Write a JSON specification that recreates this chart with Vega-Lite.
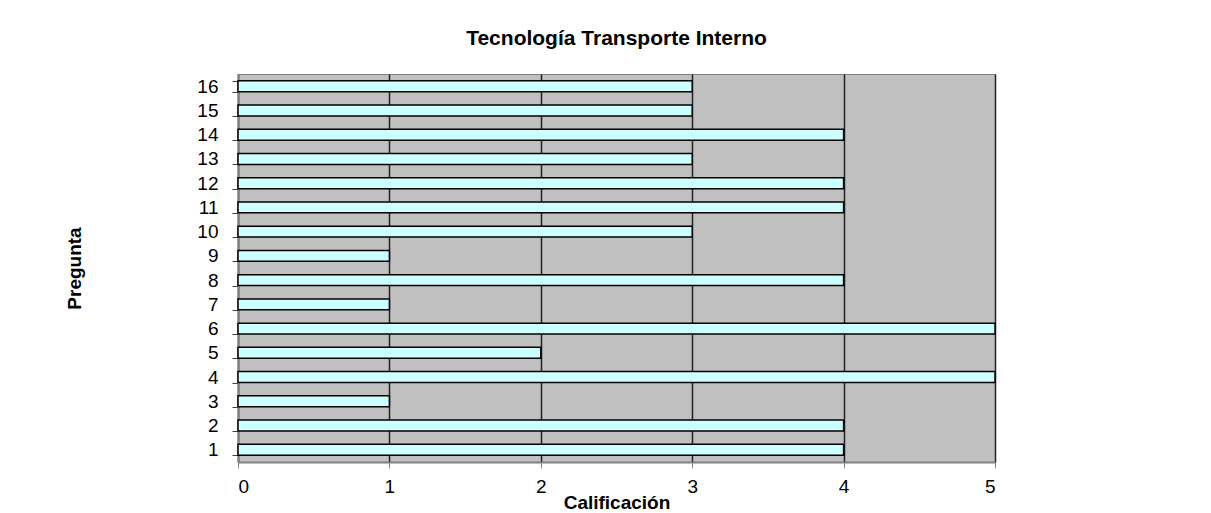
{
  "$schema": "https://vega.github.io/schema/vega-lite/v6.json",
  "autosize": {"type": "none"},
  "width": 757,
  "height": 388,
  "padding": {"left": 238, "top": 74, "right": 216, "bottom": 51},
  "background": "white",
  "title": {
    "text": "Tecnología Transporte Interno",
    "font": "Liberation Sans",
    "fontSize": 21,
    "fontWeight": "bold",
    "color": "black",
    "anchor": "middle",
    "offset": 16
  },
  "config": {
    "view": {"fill": "#C0C0C0", "stroke": "#808080", "strokeWidth": 1},
    "axis": {
      "labelFont": "Liberation Sans",
      "labelFontSize": 19,
      "labelColor": "black",
      "titleFont": "Liberation Sans",
      "titleFontSize": 19,
      "titleFontWeight": "bold",
      "titleColor": "black"
    }
  },
  "data": {
    "values": [
      {"pregunta": "1", "calificacion": 4},
      {"pregunta": "2", "calificacion": 4},
      {"pregunta": "3", "calificacion": 1},
      {"pregunta": "4", "calificacion": 5},
      {"pregunta": "5", "calificacion": 2},
      {"pregunta": "6", "calificacion": 5},
      {"pregunta": "7", "calificacion": 1},
      {"pregunta": "8", "calificacion": 4},
      {"pregunta": "9", "calificacion": 1},
      {"pregunta": "10", "calificacion": 3},
      {"pregunta": "11", "calificacion": 4},
      {"pregunta": "12", "calificacion": 4},
      {"pregunta": "13", "calificacion": 3},
      {"pregunta": "14", "calificacion": 4},
      {"pregunta": "15", "calificacion": 3},
      {"pregunta": "16", "calificacion": 3}
    ]
  },
  "mark": {"type": "bar", "fill": "#CCFFFF", "stroke": "black", "strokeWidth": 1.5},
  "encoding": {
    "y": {
      "field": "pregunta",
      "type": "ordinal",
      "sort": ["16","15","14","13","12","11","10","9","8","7","6","5","4","3","2","1"],
      "scale": {"paddingInner": 0.55, "paddingOuter": 0.28},
      "axis": {
        "title": "Pregunta",
        "titlePadding": 112,
        "labelPadding": 14,
        "tickColor": "#404040",
        "tickSize": 6,
        "tickBand": "extent",
        "domainColor": "#808080",
        "domainWidth": 2,
        "grid": false
      }
    },
    "x": {
      "field": "calificacion",
      "type": "quantitative",
      "scale": {"domain": [0, 5], "nice": false},
      "axis": {
        "title": "Calificación",
        "titlePadding": -3,
        "values": [0, 1, 2, 3, 4, 5],
        "format": "d",
        "labelPadding": 9,
        "tickColor": "#808080",
        "tickSize": 6,
        "domainColor": "#808080",
        "domainWidth": 2,
        "grid": true,
        "gridColor": "#202020",
        "gridWidth": 1.5
      }
    }
  }
}
